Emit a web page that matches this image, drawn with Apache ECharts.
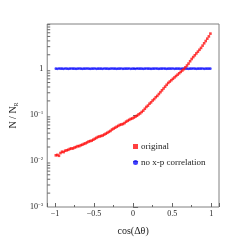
<!DOCTYPE html>
<html><head><meta charset="utf-8">
<script src="https://cdn.jsdelivr.net/npm/echarts@6/dist/echarts.min.js"></script>
<style>html,body{margin:0;padding:0;background:#fff}#c{width:243px;height:242px}</style>
</head><body><div id="c"></div>
<script>
const xs = [-0.99,-0.97,-0.95,-0.93,-0.91,-0.89,-0.87,-0.85,-0.83,-0.81,-0.79,-0.77,-0.75,-0.73,-0.71,-0.69,-0.67,-0.65,-0.63,-0.61,
-0.59,-0.57,-0.55,-0.53,-0.51,-0.49,-0.47,-0.45,-0.43,-0.41,-0.39,-0.37,-0.35,-0.33,-0.31,-0.29,-0.27,-0.25,-0.23,-0.21,
-0.19,-0.17,-0.15,-0.13,-0.11,-0.09,-0.07,-0.05,-0.03,-0.01,0.01,0.03,0.05,0.07,0.09,0.11,0.13,0.15,0.17,0.19,
0.21,0.23,0.25,0.27,0.29,0.31,0.33,0.35,0.37,0.39,0.41,0.43,0.45,0.47,0.49,0.51,0.53,0.55,0.57,0.59,
0.61,0.63,0.65,0.67,0.69,0.71,0.73,0.75,0.77,0.79,0.81,0.83,0.85,0.87,0.89,0.91,0.93,0.95,0.97,0.99];
const original = [0.0132,0.0135,0.0129,0.0148,0.0158,0.0155,0.0166,0.0170,0.0174,0.0182,0.0186,0.0186,0.0195,0.0200,0.0209,0.0209,0.0219,0.0224,0.0234,0.0240,
0.0251,0.0263,0.0269,0.0275,0.0288,0.0302,0.0316,0.0331,0.0339,0.0347,0.0355,0.0372,0.0389,0.0407,0.0427,0.0447,0.0479,0.0501,0.0525,0.0550,
0.0575,0.0603,0.0617,0.0631,0.0661,0.0708,0.0741,0.0776,0.0813,0.0832,0.0871,0.0912,0.0955,0.102,0.107,0.115,0.123,0.135,0.148,0.158,
0.174,0.186,0.204,0.219,0.240,0.257,0.282,0.309,0.339,0.372,0.407,0.447,0.490,0.525,0.562,0.603,0.646,0.692,0.741,0.794,
0.851,0.912,0.977,1.07,1.17,1.29,1.45,1.62,1.78,1.95,2.14,2.34,2.57,2.82,3.16,3.55,3.98,4.47,5.01,5.75];
const noCorr = [1.00,0.99,1.01,1.00,1.00,0.99,1.01,1.00,0.99,1.00,1.01,1.00,1.00,0.99,1.00,1.01,1.00,0.99,1.00,1.00,
1.01,1.00,0.99,1.00,1.00,1.01,0.99,1.00,1.00,1.00,0.99,1.01,1.00,1.00,0.99,1.00,1.01,1.00,1.00,0.99,
1.00,1.00,1.01,0.99,1.00,1.00,1.00,1.01,0.99,1.00,1.00,0.99,1.01,1.00,1.00,1.00,0.99,1.00,1.01,1.00,
1.00,0.99,1.00,1.00,1.01,1.00,0.99,1.00,1.00,1.01,1.00,0.99,1.00,1.00,1.00,1.01,0.99,1.00,1.00,1.00,
0.99,1.00,1.01,1.00,1.00,0.99,1.00,1.00,1.01,1.00,0.99,1.00,1.00,1.00,1.01,0.99,1.00,1.00,1.00,1.00];
const seriesNames = ['original', 'no x-p correlation'];
const yMinorTicks = [0.002,0.003,0.004,0.005,0.006,0.007,0.008,0.009,0.02,0.03,0.04,0.05,0.06,0.07,0.08,0.09,
0.2,0.3,0.4,0.5,0.6,0.7,0.8,0.9,2,3,4,5,6,7,8,9];

const FONT = 'Liberation Serif';
const chart = echarts.init(document.getElementById('c'), null, {renderer:'canvas'});
const supMap = {'-1':'−1','-2':'−2','-3':'−3'};
chart.setOption({
  animation:false,
  grid:{left:32,right:24,top:24,bottom:35,show:true,borderColor:'#808080',borderWidth:1,backgroundColor:'transparent'},
  legend:{
    orient:'vertical', left:128, top:137, itemWidth:5, itemHeight:5, itemGap:7,
    textStyle:{fontFamily:FONT,fontSize:9,color:'#222',padding:[0,0,0,-2]},
    data:[{name:seriesNames[0],icon:'rect'},{name:seriesNames[1],icon:'circle'}]
  },
  xAxis:{
    type:'value', min:-1.1, max:1.1, splitNumber:4,
    name:'cos(Δθ)', nameLocation:'middle', nameGap:19,
    nameTextStyle:{fontFamily:FONT,fontSize:10,color:'#222'},
    axisLine:{show:false},
    axisTick:{inside:true,length:4,lineStyle:{color:'#666'}},
    minorTick:{show:true,splitNumber:2,length:2,lineStyle:{color:'#666'}},
    splitLine:{show:false},
    axisLabel:{fontFamily:FONT,fontSize:8,color:'#222',margin:3,showMinLabel:false,showMaxLabel:false,
      formatter:v=>v<0?'−'+Math.abs(v):String(v)}
  },
  yAxis:{
    type:'log', min:0.001, max:9.3, logBase:10,
    name:'{n|N / N}{s|R}', nameLocation:'middle', nameGap:21, nameRotate:90,
    nameTextStyle:{rich:{n:{fontFamily:FONT,fontSize:10,color:'#222'},s:{fontFamily:FONT,fontSize:6,color:'#222',padding:[6,0,0,0]}}},
    axisLine:{show:false},
    axisTick:{inside:true,length:5,lineStyle:{color:'#666'}},
    splitLine:{show:false},
    axisLabel:{margin:4,showMaxLabel:false,
      formatter:v=>{const e=Math.round(Math.log10(v)); if(Math.abs(Math.log10(v)-e)>0.01) return ''; return e===0?'{b|1}':'{b|10}{s|'+supMap[String(e)]+'}';},
      rich:{b:{fontFamily:FONT,fontSize:8,color:'#222'},s:{fontFamily:FONT,fontSize:5,color:'#222',padding:[0,0,5,0]}}
    }
  },
  series:[
    {name:seriesNames[1],type:'scatter',symbol:'circle',symbolSize:2.6,itemStyle:{color:'#1010ff'},
      data:xs.map((x,i)=>[x,noCorr[i]]),z:2},
    {name:seriesNames[0],type:'scatter',symbol:'rect',symbolSize:2.6,itemStyle:{color:'#ff1010'},
      data:xs.map((x,i)=>[x,original[i]]),z:3},
    {type:'custom',silent:true,legendHoverLink:false,
      data:yMinorTicks.map(v=>[-1.1,v]),
      renderItem:(params,api)=>{
        const p=api.coord([api.value(0),api.value(1)]);
        const x0=params.coordSys.x;
        if(p[1]<params.coordSys.y) return null;
        return {type:'line',shape:{x1:x0,y1:p[1],x2:x0+3,y2:p[1]},style:{stroke:'#666',lineWidth:1}};
      }}
  ]
});
</script></body></html>
